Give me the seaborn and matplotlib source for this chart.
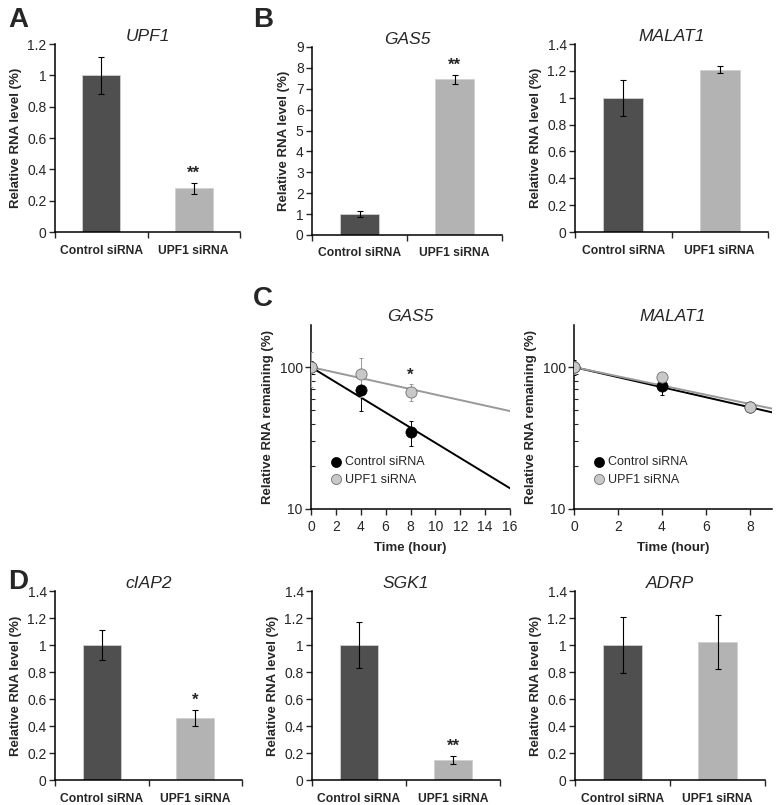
import numpy as np
import pandas as pd
import matplotlib
matplotlib.use("Agg")
import matplotlib.pyplot as plt
from matplotlib.ticker import FuncFormatter, NullFormatter
import seaborn as sns

sns.set_style("white")
plt.rcParams['font.family'] = ['Liberation Sans', 'DejaVu Sans']

# ---- data ----
groups = ['Control siRNA', 'UPF1 siRNA']

upf1_vals = [1.0, 0.28]
upf1_err = [0.12, 0.035]

gas5_vals = [1.0, 7.45]
gas5_err = [0.15, 0.22]

malat1_vals = [1.0, 1.21]
malat1_err = [0.135, 0.025]

ciap2_vals = [1.0, 0.46]
ciap2_err = [0.11, 0.06]

sgk1_vals = [1.0, 0.15]
sgk1_err = [0.17, 0.03]

adrp_vals = [1.0, 1.02]
adrp_err = [0.21, 0.20]

# decay time courses (panel C)
time_h = [0, 4, 8]
gas5_ctrl = [100, 69, 35]
gas5_ctrl_err = [10, 20, 7]
gas5_upf1 = [100, 89, 67]
gas5_upf1_err = [28, 27, 9]
gas5_fit_t = [0, 16]
gas5_fit_ctrl = [100, 14]
gas5_fit_upf1 = [100, 49]

malat1_ctrl = [100, 74, 52]
malat1_ctrl_err = [12, 10, 4]
malat1_upf1 = [100, 85, 52]
malat1_upf1_err = [10, 4, 4]
malat1_fit_t = [0, 9]
malat1_fit_ctrl = [100, 48]
malat1_fit_upf1 = [100, 51]

dark = '#4f4f4f'
light = '#b3b3b3'
fit_grey = '#999999'

fig = plt.figure(figsize=(7.76, 8.05), dpi=100)
W, H = 776, 805


def add_ax(x0, x1, ytop, ybot):
    return fig.add_axes([x0 / W, 1 - ybot / H, (x1 - x0) / W, (ybot - ytop) / H])


def style_axes(ax):
    sns.despine(ax=ax)
    for s in ['left', 'bottom']:
        ax.spines[s].set_linewidth(1.1)
        ax.spines[s].set_color('black')
    ax.tick_params(axis='y', which='major', direction='out', length=4, width=1,
                   labelsize=10, pad=2, left=True)


def bar_panel(ax, vals, errs, title, ymax, ystep, star=None):
    df = pd.DataFrame({'group': groups, 'value': vals})
    sns.barplot(data=df, x='group', y='value', hue='group',
                palette=[dark, light], legend=False, width=0.41,
                edgecolor='#d0d0d0', linewidth=0.6, ax=ax)
    ax.errorbar([0, 1], vals, yerr=errs, fmt='none', ecolor='black',
                elinewidth=0.8, capsize=2, capthick=0.8)
    if star:
        ax.text(1, vals[1] + errs[1] + ymax * 0.012, star, ha='center',
                va='bottom', fontsize=12, fontweight='bold')
    ax.set_xlim(-0.5, 1.5)
    ax.set_ylim(0, ymax)
    ax.set_yticks(np.arange(0, ymax + ystep / 2, ystep))
    ax.yaxis.set_major_formatter(FuncFormatter(lambda v, p: f'{v:g}'))
    ax.set_xticks([0, 1])
    ax.set_xticklabels(groups, fontweight='bold', fontsize=8.7)
    ax.set_xticks([-0.5, 0.5, 1.5], minor=True)
    ax.tick_params(axis='x', which='major', length=0, pad=9)
    ax.tick_params(axis='x', which='minor', direction='out', length=4,
                   width=1, bottom=True)
    ax.set_xlabel('')
    ax.set_ylabel('Relative RNA level (%)', fontweight='bold', fontsize=9.5,
                  labelpad=4)
    ax.set_title(title, style='italic', fontsize=12.5, pad=2)
    style_axes(ax)


def decay_panel(ax, ctrl, ctrl_err, upf1, upf1_err, fit_t, fit_ctrl,
                fit_upf1, title, xmax, xticks, star=None):
    sns.lineplot(x=fit_t, y=fit_ctrl, color='black', linewidth=1.4, ax=ax)
    sns.lineplot(x=fit_t, y=fit_upf1, color=fit_grey, linewidth=1.4, ax=ax)
    ax.errorbar(time_h, ctrl, yerr=ctrl_err, fmt='none', ecolor='black',
                elinewidth=0.7, capsize=1.5, capthick=0.7, zorder=3)
    ax.errorbar(time_h, upf1, yerr=upf1_err, fmt='none', ecolor='#999999',
                elinewidth=0.7, capsize=1.5, capthick=0.7, zorder=3)
    sns.scatterplot(x=time_h, y=ctrl, color='black', s=65, edgecolor='black',
                    linewidth=0.5, zorder=4, ax=ax, label='Control siRNA')
    sns.scatterplot(x=time_h, y=upf1, color='#c8c8c8', s=65,
                    edgecolor='#707070', linewidth=0.6, zorder=5, ax=ax,
                    label='UPF1 siRNA')
    if star:
        ax.text(8, upf1[2] + upf1_err[2] + 1.5, star, ha='center',
                va='bottom', fontsize=12, fontweight='bold')
    ax.set_yscale('log')
    ax.set_ylim(10, 198)
    ax.set_yticks([10, 100])
    ax.yaxis.set_major_formatter(FuncFormatter(lambda v, p: f'{v:g}'))
    ax.yaxis.set_minor_formatter(NullFormatter())
    ax.set_xlim(0, xmax)
    ax.set_xticks(xticks)
    ax.tick_params(axis='x', which='major', direction='out', length=4,
                   width=1, labelsize=10, bottom=True, pad=4)
    ax.tick_params(axis='y', which='minor', direction='in', length=3,
                   width=0.8, left=True)
    ax.set_xlabel('Time (hour)', fontweight='bold', fontsize=9.5, labelpad=6)
    ax.set_ylabel('Relative RNA remaining (%)', fontweight='bold',
                  fontsize=9.5, labelpad=4)
    ax.set_title(title, style='italic', fontsize=12.5, pad=3)
    ax.legend(loc='lower left', bbox_to_anchor=(0.04, 0.1), frameon=False,
              fontsize=9, handletextpad=-0.3, labelspacing=0.45,
              borderaxespad=0, markerscale=0.9)
    style_axes(ax)


# A
axA = add_ax(55, 240, 44, 232)
bar_panel(axA, upf1_vals, upf1_err, 'UPF1', 1.2, 0.2, '**')

# B
axB1 = add_ax(312, 502, 47, 235)
bar_panel(axB1, gas5_vals, gas5_err, 'GAS5', 9, 1, '**')
axB2 = add_ax(575, 768, 44, 232)
bar_panel(axB2, malat1_vals, malat1_err, 'MALAT1', 1.4, 0.2)

# C
axC1 = add_ax(311, 510, 325, 509)
decay_panel(axC1, gas5_ctrl, gas5_ctrl_err, gas5_upf1, gas5_upf1_err,
            gas5_fit_t, gas5_fit_ctrl, gas5_fit_upf1, 'GAS5', 16,
            range(0, 17, 2), '*')
axC2 = add_ax(574, 772, 325, 509)
decay_panel(axC2, malat1_ctrl, malat1_ctrl_err, malat1_upf1, malat1_upf1_err,
            malat1_fit_t, malat1_fit_ctrl, malat1_fit_upf1, 'MALAT1', 9,
            range(0, 9, 2))

# D
axD1 = add_ax(55, 242, 591, 780)
bar_panel(axD1, ciap2_vals, ciap2_err, 'cIAP2', 1.4, 0.2, '*')
axD2 = add_ax(312, 500, 591, 780)
bar_panel(axD2, sgk1_vals, sgk1_err, 'SGK1', 1.4, 0.2, '**')
axD3 = add_ax(575, 765, 591, 780)
bar_panel(axD3, adrp_vals, adrp_err, 'ADRP', 1.4, 0.2)

# panel letters
for letter, x, y in [('A', 8, 7), ('B', 253, 7), ('C', 253, 286), ('D', 8, 569)]:
    fig.text(x / W, 1 - y / H, letter, fontsize=20, fontweight='bold',
             va='top', ha='left')

fig.savefig('out.png', dpi=100)
